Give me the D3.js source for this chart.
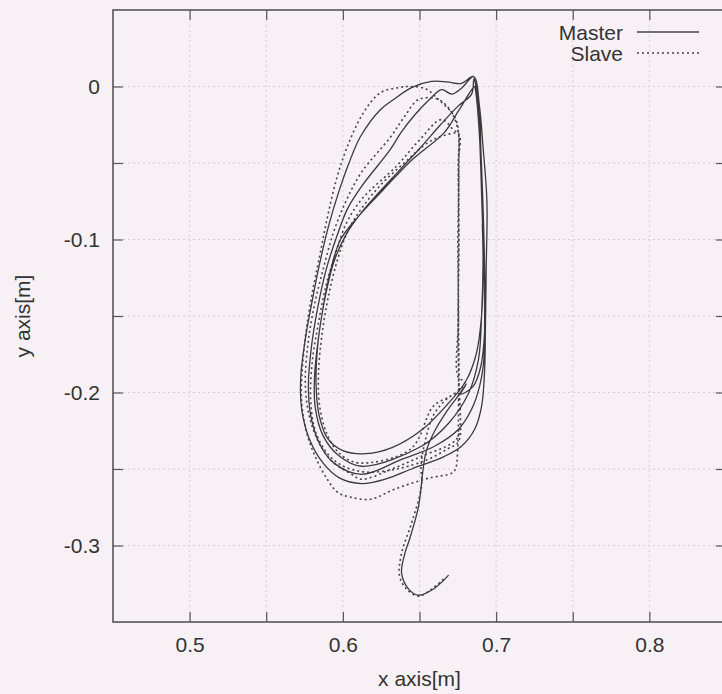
<!DOCTYPE html>
<html>
<head>
<meta charset="utf-8">
<script src="https://cdn.jsdelivr.net/npm/d3@7"></script>
<style>
  html, body { margin: 0; padding: 0; background: #f7f1f5; }
  svg { display: block; font-family: "Liberation Sans", Arial, sans-serif; }
</style>
</head>
<body>
<svg id="chart" width="722" height="694"></svg>
<script>
/* master / slave hand position trace, x-y plane */

const xTicks = [0.5, 0.55, 0.6, 0.65, 0.7, 0.75, 0.8];
const xLabels = ["0.5", "", "0.6", "", "0.7", "", "0.8"];
const yTicks = [-0.3, -0.25, -0.2, -0.15, -0.1, -0.05, 0];
const yLabels = ["-0.3", "", "-0.2", "", "-0.1", "", "0"];
const seriesNames = ["Master", "Slave"];

// master: approach tail from the bottom, then four laps
const masterTail = [[0.669,-0.3194],[0.6598,-0.3279],[0.6494,-0.3325],[0.6429,-0.3285],[0.6383,-0.3181],[0.6405,-0.305],[0.6435,-0.2959],[0.6494,-0.2743],[0.6526,-0.2482],[0.6545,-0.238],[0.660,-0.225],[0.668,-0.212],[0.675,-0.2026],[0.6805,-0.1945],[0.677,-0.201],[0.685,-0.196],[0.690,-0.183],[0.6925,-0.160],[0.6925,-0.120],[0.6915,-0.080],[0.690,-0.040],[0.689,-0.012],[0.6853,0.0065]];
const masterLap1 = [[0.6774,0.002],[0.668,0.003],[0.6579,0.0033],[0.6448,-0.0007],[0.6331,-0.0085],[0.6246,-0.015],[0.6115,-0.0327],[0.604,-0.05],[0.5972,-0.0692],[0.591,-0.09],[0.585,-0.115],[0.580,-0.14],[0.5755,-0.165],[0.5725,-0.19],[0.573,-0.21],[0.578,-0.23],[0.587,-0.246],[0.598,-0.256],[0.6122,-0.2595],[0.628,-0.2565],[0.6448,-0.2500],[0.6663,-0.2417],[0.6774,-0.2351],[0.686,-0.224],[0.6905,-0.209],[0.6924,-0.1875],[0.693,-0.16],[0.6935,-0.12],[0.694,-0.075],[0.6915,-0.04],[0.689,-0.012],[0.6853,0.0065]];
const masterLap2 = [[0.6775,-0.001],[0.671,-0.005],[0.6644,-0.002],[0.656,-0.009],[0.6474,-0.018],[0.638,-0.03],[0.6311,-0.041],[0.6122,-0.0653],[0.603,-0.08],[0.596,-0.098],[0.589,-0.12],[0.5835,-0.145],[0.5795,-0.17],[0.5775,-0.195],[0.579,-0.215],[0.585,-0.234],[0.594,-0.246],[0.6122,-0.2535],[0.6383,-0.2437],[0.6598,-0.2351],[0.6755,-0.224],[0.684,-0.211],[0.6892,-0.196],[0.6918,-0.181],[0.6925,-0.15],[0.692,-0.11],[0.691,-0.07],[0.6895,-0.03],[0.6875,-0.005],[0.6855,0.005]];
const masterLap3 = [[0.684,-0.005],[0.675,-0.013],[0.6637,-0.025],[0.6506,-0.04],[0.6376,-0.054],[0.6122,-0.0823],[0.602,-0.097],[0.594,-0.115],[0.588,-0.14],[0.584,-0.165],[0.5815,-0.19],[0.582,-0.21],[0.587,-0.228],[0.597,-0.241],[0.6122,-0.2482],[0.6513,-0.2351],[0.669,-0.2201],[0.682,-0.2005],[0.6885,-0.1783],[0.6905,-0.15],[0.6915,-0.11],[0.6905,-0.07],[0.689,-0.03],[0.6865,-0.002]];
const masterLap4 = [[0.686,0.0],[0.676,-0.015],[0.6663,-0.030],[0.645,-0.048],[0.6265,-0.0673],[0.610,-0.085],[0.5985,-0.1],[0.592,-0.12],[0.587,-0.145],[0.5835,-0.17],[0.5825,-0.195],[0.5845,-0.215],[0.59,-0.23],[0.60,-0.238],[0.615,-0.240],[0.632,-0.236],[0.652,-0.224],[0.668,-0.208],[0.680,-0.193],[0.687,-0.175],[0.6905,-0.15],[0.6915,-0.12],[0.691,-0.09]];

// slave: same tail, then four laps of the squarer loop
const slaveTail = [[0.6657,-0.322],[0.6579,-0.3285],[0.6494,-0.3331],[0.6416,-0.3285],[0.637,-0.32],[0.6383,-0.305],[0.6448,-0.2854],[0.6513,-0.2613],[0.651,-0.248],[0.653,-0.235],[0.659,-0.215],[0.668,-0.204],[0.6755,-0.199],[0.6795,-0.193],[0.6752,-0.19],[0.6755,-0.15],[0.6750,-0.10],[0.6757,-0.06],[0.6755,-0.031]];
const slaveLap1 = [[0.6742,-0.0229],[0.671,-0.017],[0.6624,-0.0085],[0.654,-0.0015],[0.6429,0.0],[0.6363,-0.0007],[0.6246,-0.004],[0.6135,-0.017],[0.603,-0.039],[0.596,-0.06],[0.59,-0.085],[0.585,-0.11],[0.580,-0.135],[0.576,-0.16],[0.5735,-0.185],[0.573,-0.205],[0.576,-0.225],[0.582,-0.242],[0.590,-0.257],[0.5965,-0.2652],[0.605,-0.2684],[0.618,-0.2698],[0.6337,-0.2632],[0.6559,-0.256],[0.6709,-0.2528],[0.6735,-0.25],[0.6748,-0.24],[0.6755,-0.2],[0.6752,-0.15],[0.6757,-0.1],[0.6753,-0.05],[0.6755,-0.031]];
const slaveLap2 = [[0.671,-0.017],[0.6624,-0.0085],[0.6494,-0.0085],[0.64,-0.02],[0.6311,-0.033],[0.6122,-0.056],[0.602,-0.075],[0.594,-0.095],[0.587,-0.12],[0.581,-0.145],[0.577,-0.17],[0.5755,-0.195],[0.578,-0.215],[0.584,-0.232],[0.593,-0.245],[0.605,-0.253],[0.6122,-0.2567],[0.632,-0.25],[0.6514,-0.2417],[0.671,-0.2332],[0.6755,-0.228],[0.6758,-0.19],[0.6753,-0.14],[0.6756,-0.09],[0.6755,-0.05],[0.6752,-0.03]];
const slaveLap3 = [[0.6729,-0.029],[0.6644,-0.0216],[0.65,-0.035],[0.635,-0.052],[0.6122,-0.0738],[0.602,-0.09],[0.595,-0.11],[0.589,-0.13],[0.584,-0.155],[0.580,-0.18],[0.579,-0.205],[0.582,-0.225],[0.59,-0.24],[0.60,-0.248],[0.615,-0.252],[0.635,-0.25],[0.655,-0.244],[0.668,-0.237],[0.6755,-0.232],[0.6757,-0.2],[0.6752,-0.15],[0.6756,-0.1],[0.6754,-0.05],[0.6755,-0.031]];
const slaveLap4 = [[0.666,-0.032],[0.655,-0.037],[0.64,-0.05],[0.625,-0.064],[0.612,-0.08],[0.603,-0.095],[0.596,-0.115],[0.59,-0.14],[0.586,-0.165],[0.584,-0.19],[0.585,-0.21],[0.59,-0.228],[0.598,-0.24],[0.61,-0.246],[0.6442,-0.237],[0.659,-0.209],[0.67,-0.2025],[0.6755,-0.199]];

const masterPath = [].concat(masterTail, masterLap1, masterLap2, masterLap3, masterLap4);
const slavePath = [].concat(slaveTail, slaveLap1, slaveLap2, slaveLap3, slaveLap4);

const svg = d3.select("#chart");
const plotL = 113, plotT = 10, plotR = 726, plotB = 622;
const ink = "#333";

svg.append("rect").attr("width", 722).attr("height", 694).attr("fill", "#f7f1f5");

const x = d3.scaleLinear().domain([0.45, 0.85]).range([plotL, plotR]);
const y = d3.scaleLinear().domain([-0.35, 0.05]).range([plotB, plotT]);

// grid
const grid = svg.append("g").attr("stroke", "#d3ced4").attr("stroke-width", 1).attr("stroke-dasharray", "2,3");
grid.selectAll("line.gx").data(xTicks).join("line").attr("class", "gx")
  .attr("x1", d => x(d)).attr("x2", d => x(d)).attr("y1", plotT).attr("y2", plotB);
grid.selectAll("line.gy").data(yTicks).join("line").attr("class", "gy")
  .attr("x1", plotL).attr("x2", plotR).attr("y1", d => y(d)).attr("y2", d => y(d));

// axes (inward ticks on all four sides)
function styleAxis(g){
  g.select(".domain").remove();
  g.selectAll(".tick line").attr("stroke", "#555").attr("stroke-width", 1.2);
  g.selectAll(".tick text").attr("fill", ink).attr("font-size", 21).attr("font-family", "Liberation Sans, Arial, sans-serif");
}
svg.append("g").attr("transform", `translate(0,${plotB})`)
  .call(d3.axisBottom(x).tickValues(xTicks).tickSize(-10).tickPadding(15).tickFormat((d, i) => xLabels[i]))
  .call(styleAxis);
svg.append("g").attr("transform", `translate(0,${plotT})`)
  .call(d3.axisTop(x).tickValues(xTicks).tickSize(-10).tickFormat(""))
  .call(styleAxis);
svg.append("g").attr("transform", `translate(${plotL},0)`)
  .call(d3.axisLeft(y).tickValues(yTicks).tickSize(-10).tickPadding(13).tickFormat((d, i) => yLabels[i]))
  .call(styleAxis);
svg.append("g").attr("transform", `translate(${plotR},0)`)
  .call(d3.axisRight(y).tickValues(yTicks).tickSize(-10).tickFormat(""))
  .call(styleAxis);

// border
svg.append("rect").attr("x", plotL).attr("y", plotT).attr("width", plotR - plotL).attr("height", plotB - plotT)
  .attr("fill", "none").attr("stroke", "#555").attr("stroke-width", 1.6);

// traces
const line = d3.line().x(d => x(d[0])).y(d => y(d[1])).curve(d3.curveCatmullRom.alpha(0.5));
svg.append("path").datum(slavePath).attr("d", line)
  .attr("fill", "none").attr("stroke", "#444").attr("stroke-width", 1.6).attr("stroke-dasharray", "2,3");
svg.append("path").datum(masterPath).attr("d", line)
  .attr("fill", "none").attr("stroke", "#3a3a3a").attr("stroke-width", 1.3);

// legend
const legend = svg.append("g").attr("font-size", 21).attr("fill", ink);
seriesNames.forEach((name, i) => {
  const by = 40 + i * 21;
  legend.append("text").attr("x", 623).attr("y", by).attr("text-anchor", "end").text(name);
  legend.append("line").attr("x1", 637).attr("x2", 699).attr("y1", by - 8).attr("y2", by - 8)
    .attr("stroke", "#444").attr("stroke-width", i ? 1.5 : 1.3)
    .attr("stroke-dasharray", i ? "2,3" : null);
});

// axis titles
svg.append("text").attr("x", (plotL + plotR) / 2).attr("y", 686).attr("text-anchor", "middle")
  .attr("font-size", 21).attr("fill", ink).text("x axis[m]");
svg.append("text").attr("transform", `translate(30,${(plotT + plotB) / 2}) rotate(-90)`)
  .attr("text-anchor", "middle").attr("font-size", 21).attr("fill", ink).text("y axis[m]");
</script>
</body>
</html>
